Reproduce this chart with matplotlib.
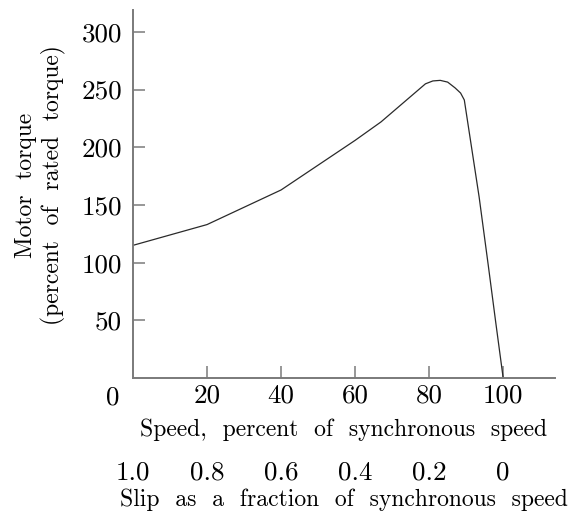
import matplotlib
matplotlib.use("Agg")
import matplotlib.pyplot as plt
import numpy as np

speed = [0, 20, 40, 60, 67, 79, 81, 83, 85, 87, 88.5, 89.5, 93.5, 96, 98, 100]
torque = [115, 133, 163, 206, 222, 255, 257.5, 258, 256.5, 251.5, 247, 241, 157, 97, 48, 0]

speed_ticks = [20, 40, 60, 80, 100]
torque_ticks = [50, 100, 150, 200, 250, 300]
slip_ticks = [1.0, 0.8, 0.6, 0.4, 0.2, 0.0]
slip_labels = ["1.0", "0.8", "0.6", "0.4", "0.2", "0"]

plt.rcParams['font.family'] = ['cmr10', 'DejaVu Serif']
plt.rcParams['axes.unicode_minus'] = False
plt.rcParams['mathtext.fontset'] = 'cm'

W, H = 575, 514
fig = plt.figure(figsize=(W / 100, H / 100), dpi=100)
ax = fig.add_axes([133 / W, (H - 378) / H, (555 - 133) / W, (378 - 10) / H])

ax.plot(speed, torque, color="#2a2a2a", lw=0.9, solid_joinstyle='round')
ax.set_xlim(0, 114)
ax.set_ylim(0, 319)

spine_col = "#7a7a7a"
for s in ["top", "right"]:
    ax.spines[s].set_visible(False)
for s in ["left", "bottom"]:
    ax.spines[s].set_color(spine_col)
    ax.spines[s].set_linewidth(1.4)

NUM = 19.5
TXT = 17

ax.set_xticks(speed_ticks)
ax.set_xticklabels([str(v) for v in speed_ticks])
ax.set_yticks(torque_ticks)
ax.set_yticklabels([str(v) for v in torque_ticks])
ax.tick_params(axis='both', direction='in', length=8.5, width=1.1, color=spine_col,
               labelsize=NUM)
ax.tick_params(axis='x', pad=4)
ax.tick_params(axis='y', pad=8)

ax.text(-20 / 3.7, -0.052, "0", transform=ax.get_xaxis_transform(),
        ha='center', va='center', fontsize=NUM)

ax.set_xlabel("Speed,  percent  of  synchronous  speed", fontsize=TXT, labelpad=8)
ax.set_ylabel("Motor  torque\n(percent  of  rated  torque)", fontsize=TXT,
              linespacing=1.25)
ax.yaxis.set_label_coords(-0.158, 0.524)

sec = ax.secondary_xaxis(-0.222, functions=(lambda s: 1 - s / 100.0,
                                             lambda f: 100.0 * (1 - f)))
sec.set_xticks(slip_ticks)
sec.set_xticklabels(slip_labels)
sec.spines['bottom'].set_visible(False)
sec.tick_params(axis='x', length=0, pad=1, labelsize=NUM)
sec.set_xlabel("Slip  as  a  fraction  of  synchronous  speed", fontsize=TXT, labelpad=3)

fig.savefig("out.png", dpi=100)
